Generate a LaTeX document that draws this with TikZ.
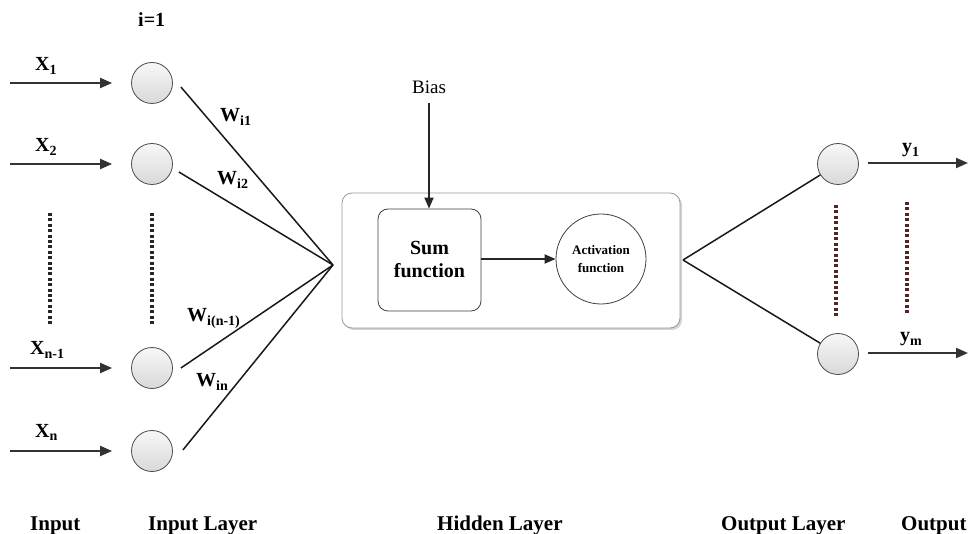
\documentclass[tikz,border=0pt]{standalone}
\usepackage{fontspec}
\setmainfont{Liberation Serif}
\usetikzlibrary{arrows.meta,calc,shadows}
\begin{document}
\begin{tikzpicture}[x=1pt,y=-1pt,
  neuron/.style={circle,draw=gray!60!black,line width=0.8pt,minimum size=41pt,inner sep=0pt,top color=gray!6,bottom color=gray!30},
  conn/.style={line width=1.5pt,black!90},
  arr/.style={line width=2pt,black!80,-{Triangle[length=12pt,width=10pt]}},
  arrs/.style={line width=1.8pt,black!85,-{Triangle[length=11pt,width=9pt]}},
  lbl/.style={font=\fontsize{20}{23}\selectfont\bfseries,inner sep=0pt,anchor=base west},
  big/.style={font=\fontsize{21}{24}\selectfont\bfseries,inner sep=0pt,anchor=base west},
  dotsk/.style={line width=3.2pt,dash pattern=on 3pt off 2.4pt,black!85},
  dotsr/.style={line width=3.2pt,dash pattern=on 3pt off 2.4pt,red!20!black!85},
]
\useasboundingbox (0,0) rectangle (969,534);

% input neurons
\node[neuron] (in1) at (152,83) {};
\node[neuron] (in2) at (152,164) {};
\node[neuron] (in3) at (152,368) {};
\node[neuron] (in4) at (152,451) {};

% input arrows
\coordinate (s1) at (10,83);
\coordinate (s2) at (10,164);
\coordinate (s3) at (10,368);
\coordinate (s4) at (10,451);
\foreach \i in {1,2,3,4} \draw[arr,shorten >=19pt] (s\i) -- (in\i);

% input labels
\node[lbl] (lx1) at (35,71) {X\textsubscript{1}};
\node[lbl] (lx2) at (35,152) {X\textsubscript{2}};
\node[lbl] (lx3) at (30,355) {X\textsubscript{n-1}};
\node[lbl] (lx4) at (35,437) {X\textsubscript{n}};
\node[lbl] (li) at (138,27) {i=1};

% dotted
\coordinate (d1a) at (50,213); \coordinate (d1b) at (50,325);
\coordinate (d2a) at (152,213); \coordinate (d2b) at (152,325);
\draw[dotsk] (d1a) -- (d1b);
\draw[dotsk] (d2a) -- (d2b);

% hidden layer box
\node[draw=gray!80,line width=0.8pt,fill=white,rounded corners=10pt,minimum width=338pt,minimum height=135pt,
  drop shadow={opacity=0.35,shadow xshift=2pt,shadow yshift=-2pt}] (hid) at (511,260.5) {};
\node[draw=black!75,line width=0.8pt,rounded corners=10pt,minimum width=103pt,minimum height=102pt,
  align=center,font=\fontsize{20}{23}\selectfont\bfseries] (sum) at (429.5,260) {Sum\\function};
\node[draw=black!75,line width=0.8pt,circle,minimum size=90pt,inner sep=0pt,
  align=center,font=\fontsize{13}{18}\selectfont\bfseries] (act) at (601,259) {Activation\\function};
\draw[arrs] (sum.east |- 0,259) -- (act);

% bias
\node[font=\fontsize{19}{22}\selectfont,inner sep=0pt,anchor=base] (bias) at (429,94) {Bias};
\coordinate (bs) at (429,103);
\draw[arrs] (bs) -- (sum.north -| bs);

% convergence lines
\coordinate (cl) at (333,265);
\coordinate (cr) at (683,260);
\draw[conn] ($(in1.east)+(8,4)$) -- (cl);
\draw[conn] ($(in2.east)+(6,8)$) -- (cl);
\draw[conn] ($(in3.east)+(8,0)$) -- (cl);
\draw[conn] ($(in4.east)+(10,-1)$) -- (cl);

% weight labels
\node[lbl] (w1) at (220,122) {W\textsubscript{i1}};
\node[lbl] (w2) at (217,185) {W\textsubscript{i2}};
\node[lbl] (w3) at (187,322) {W\textsubscript{i(n-1)}};
\node[lbl] (w4) at (196,387) {W\textsubscript{in}};

% output neurons
\node[neuron] (out1) at (838,164) {};
\node[neuron] (out2) at (838,354) {};
\draw[conn] (cr) -- (out1);
\draw[conn] (cr) -- (out2);

\coordinate (e1) at (968,163);
\coordinate (e2) at (968,353);
\draw[arr,shorten <=9pt] (out1.east |- e1) -- (e1);
\draw[arr,shorten <=9pt] (out2.east |- e2) -- (e2);

\node[lbl] (ly1) at (902,153) {y\textsubscript{1}};
\node[lbl] (lym) at (900,342) {y\textsubscript{m}};

\coordinate (d3a) at (836,205); \coordinate (d3b) at (836,316);
\coordinate (d4a) at (907,202); \coordinate (d4b) at (907,314);
\draw[dotsr] (d3a) -- (d3b);
\draw[dotsr] (d4a) -- (d4b);

% bottom labels
\node[big] (t1) at (30,530) {Input};
\node[big] (t2) at (148,530) {Input Layer};
\node[big] (t3) at (437,530) {Hidden Layer};
\node[big] (t4) at (721,530) {Output Layer};
\node[big] (t5) at (901,530) {Output};
\end{tikzpicture}
\end{document}
